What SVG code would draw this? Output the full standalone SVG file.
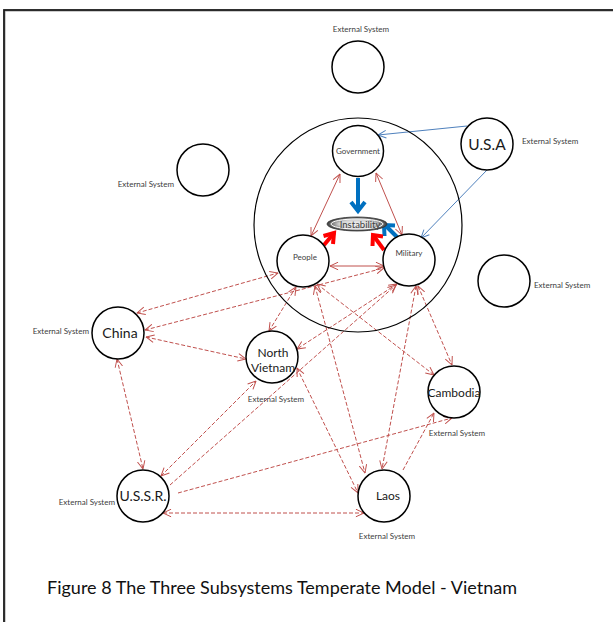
<svg xmlns="http://www.w3.org/2000/svg" width="613" height="622" viewBox="0 0 613 622">
<style>
.node{fill:#fff;stroke:#000;stroke-width:1.5}
.big{fill:none;stroke:#000;stroke-width:1.2}
.lbl{font-family:Lato,"Liberation Sans",sans-serif;fill:#404040}
.ext{font-family:Lato,"Liberation Sans",sans-serif;font-size:8px;fill:#404040}
.name{font-family:Lato,"Liberation Sans",sans-serif;fill:#1a1a1a;text-anchor:middle}
.sm{font-size:8px;text-anchor:middle}
.rs{fill:none;stroke:#C0504D;stroke-width:1}
.rd{fill:none;stroke:#C0504D;stroke-width:1;stroke-dasharray:4 2}
.bl{fill:none;stroke:#4F81BD;stroke-width:1}
.tb{fill:none;stroke:#0070C0;stroke-width:4;stroke-linejoin:miter}
.tr{fill:none;stroke:#FF0000;stroke-width:4;stroke-linejoin:miter}
</style>
<defs>
<marker id="ar" viewBox="0 0 10 10" refX="9.5" refY="5" markerWidth="9" markerHeight="9" markerUnits="userSpaceOnUse" orient="auto-start-reverse">
<path d="M0.5,0.8 L9.5,5 L0.5,9.2" fill="none" stroke="#C0504D" stroke-width="1.1"/>
</marker>
<marker id="ab" viewBox="0 0 10 10" refX="9.5" refY="5" markerWidth="9" markerHeight="9" markerUnits="userSpaceOnUse" orient="auto-start-reverse">
<path d="M0.5,0.8 L9.5,5 L0.5,9.2" fill="none" stroke="#4F81BD" stroke-width="1.1"/>
</marker>
<radialGradient id="ig" cx="50%" cy="50%" r="50%">
<stop offset="0" stop-color="#f4f4f4"/>
<stop offset="0.6" stop-color="#d0d0d0"/>
<stop offset="1" stop-color="#3a3a3a"/>
</radialGradient>
</defs>
<rect x="0" y="0" width="613" height="622" fill="#fff"/>
<rect x="5" y="11" width="640" height="640" fill="none" stroke="#9a9a9a" stroke-width="1"/>
<rect x="4" y="10" width="640" height="640" fill="none" stroke="#1a1a1a" stroke-width="1.8"/>

<g id="connectors">
<line class="rs" x1="340" y1="174" x2="311" y2="236" marker-start="url(#ar)" marker-end="url(#ar)"/>
<line class="rs" x1="376" y1="173" x2="402" y2="235" marker-start="url(#ar)" marker-end="url(#ar)"/>
<line class="rs" x1="330" y1="266" x2="384" y2="266" marker-start="url(#ar)" marker-end="url(#ar)"/>
<line class="rd" x1="137" y1="313" x2="278" y2="273" marker-start="url(#ar)" marker-end="url(#ar)"/>
<line class="rd" x1="145" y1="330" x2="384" y2="268" marker-start="url(#ar)" marker-end="url(#ar)"/>
<line class="rd" x1="146" y1="337" x2="246" y2="359" marker-start="url(#ar)" marker-end="url(#ar)"/>
<line class="rd" x1="117" y1="359" x2="143" y2="469" marker-start="url(#ar)" marker-end="url(#ar)"/>
<line class="rd" x1="296" y1="287" x2="269" y2="331" marker-start="url(#ar)" marker-end="url(#ar)"/>
<line class="rd" x1="397" y1="284" x2="297" y2="349" marker-start="url(#ar)" marker-end="url(#ar)"/>
<line class="rd" x1="317" y1="284" x2="434" y2="375" marker-start="url(#ar)" marker-end="url(#ar)"/>
<line class="rd" x1="418" y1="286" x2="452" y2="365" marker-start="url(#ar)" marker-end="url(#ar)"/>
<line class="rd" x1="315" y1="286" x2="365" y2="473" marker-start="url(#ar)" marker-end="url(#ar)"/>
<line class="rd" x1="416" y1="286" x2="382" y2="469" marker-start="url(#ar)" marker-end="url(#ar)"/>
<line class="rd" x1="297" y1="368" x2="358" y2="493" marker-start="url(#ar)" marker-end="url(#ar)"/>
<line class="rd" x1="161" y1="476" x2="256" y2="381" marker-start="url(#ar)" marker-end="url(#ar)"/>
<line class="rd" x1="170" y1="485" x2="396" y2="285" marker-end="url(#ar)"/>
<line class="rd" x1="178" y1="493" x2="452" y2="418" marker-end="url(#ar)"/>
<line class="rd" x1="163" y1="513" x2="364" y2="513" marker-start="url(#ar)" marker-end="url(#ar)"/>
<line class="rd" x1="403" y1="470" x2="434" y2="413" marker-end="url(#ar)"/>
<line class="bl" x1="467" y1="126" x2="378" y2="135" marker-end="url(#ab)"/>
<line class="bl" x1="487" y1="170" x2="421" y2="238" marker-end="url(#ab)"/>
<path class="tb" d="M358,178 L358,211"/>
<path class="tb" d="M351,202 L358,211 L365,202"/>
<path class="tb" d="M397,237 L385,225"/>
<path class="tb" d="M384.5,236 L384,225 L395,225.5"/>
<path class="tr" d="M324,245 L334,233"/>
<path class="tr" d="M323.5,236 L334,233 L333,244"/>
<path class="tr" d="M384,250 L373,235"/>
<path class="tr" d="M383,236.5 L373,235 L372.5,246"/>
</g>

<g id="subsystems">
<ellipse class="big" cx="358" cy="225" rx="104" ry="107"/>
</g>

<g id="government">
<circle class="node" cx="358" cy="151" r="25.5"/>
<text class="lbl sm" x="358" y="154">Government</text>
</g>
<g id="instability">
<ellipse cx="357" cy="224" rx="30" ry="7" fill="url(#ig)" stroke="#333" stroke-width="0.8"/>
<ellipse cx="357" cy="224" rx="26" ry="5" fill="none" stroke="#fff" stroke-width="1"/>
<text class="lbl" x="360" y="227.5" font-size="9.5" text-anchor="middle">Instability</text>
</g>
<g id="people">
<circle class="node" cx="303" cy="261" r="26"/>
<text class="lbl sm" x="305" y="260">People</text>
</g>
<g id="military">
<circle class="node" cx="409" cy="260" r="26"/>
<text class="lbl sm" x="409" y="256">Military</text>
</g>
<g id="ext-top">
<circle class="node" cx="358" cy="67" r="26"/>
<text class="ext" x="361" y="32" text-anchor="middle">External System</text>
</g>
<g id="ext-left">
<circle class="node" cx="203" cy="170" r="26"/>
<text class="ext" x="174" y="187" text-anchor="end">External System</text>
</g>
<g id="ext-right">
<circle class="node" cx="504" cy="281" r="26"/>
<text class="ext" x="534" y="288">External System</text>
</g>
<g id="usa">
<circle class="node" cx="487" cy="144" r="26"/>
<text class="name" x="487" y="150" font-size="15.5">U.S.A</text>
<text class="ext" x="522" y="144">External System</text>
</g>
<g id="china">
<circle class="node" cx="118" cy="333" r="26"/>
<text class="name" x="120" y="338" font-size="14">China</text>
<text class="ext" x="89" y="334" text-anchor="end">External System</text>
</g>
<g id="north-vietnam">
<circle class="node" cx="272" cy="357" r="26"/>
<text class="name" x="273" y="357" font-size="12">North</text>
<text class="name" x="273" y="372" font-size="12">Vietnam</text>
<text class="ext" x="276" y="402" text-anchor="middle">External System</text>
</g>
<g id="cambodia">
<circle class="node" cx="454" cy="392" r="26"/>
<text class="name" x="454" y="397" font-size="12">Cambodia</text>
<text class="ext" x="457" y="436" text-anchor="middle">External System</text>
</g>
<g id="ussr">
<circle class="node" cx="143" cy="496" r="26"/>
<text class="name" x="143" y="501" font-size="14">U.S.S.R.</text>
<text class="ext" x="115" y="505" text-anchor="end">External System</text>
</g>
<g id="laos">
<circle class="node" cx="384" cy="496" r="26"/>
<text class="name" x="388" y="500" font-size="12">Laos</text>
<text class="ext" x="387" y="539" text-anchor="middle">External System</text>
</g>

<text x="282" y="594" font-family="Lato,'Liberation Sans',sans-serif" font-size="18" fill="#111" text-anchor="middle">Figure 8 The Three Subsystems Temperate Model - Vietnam</text>
</svg>
